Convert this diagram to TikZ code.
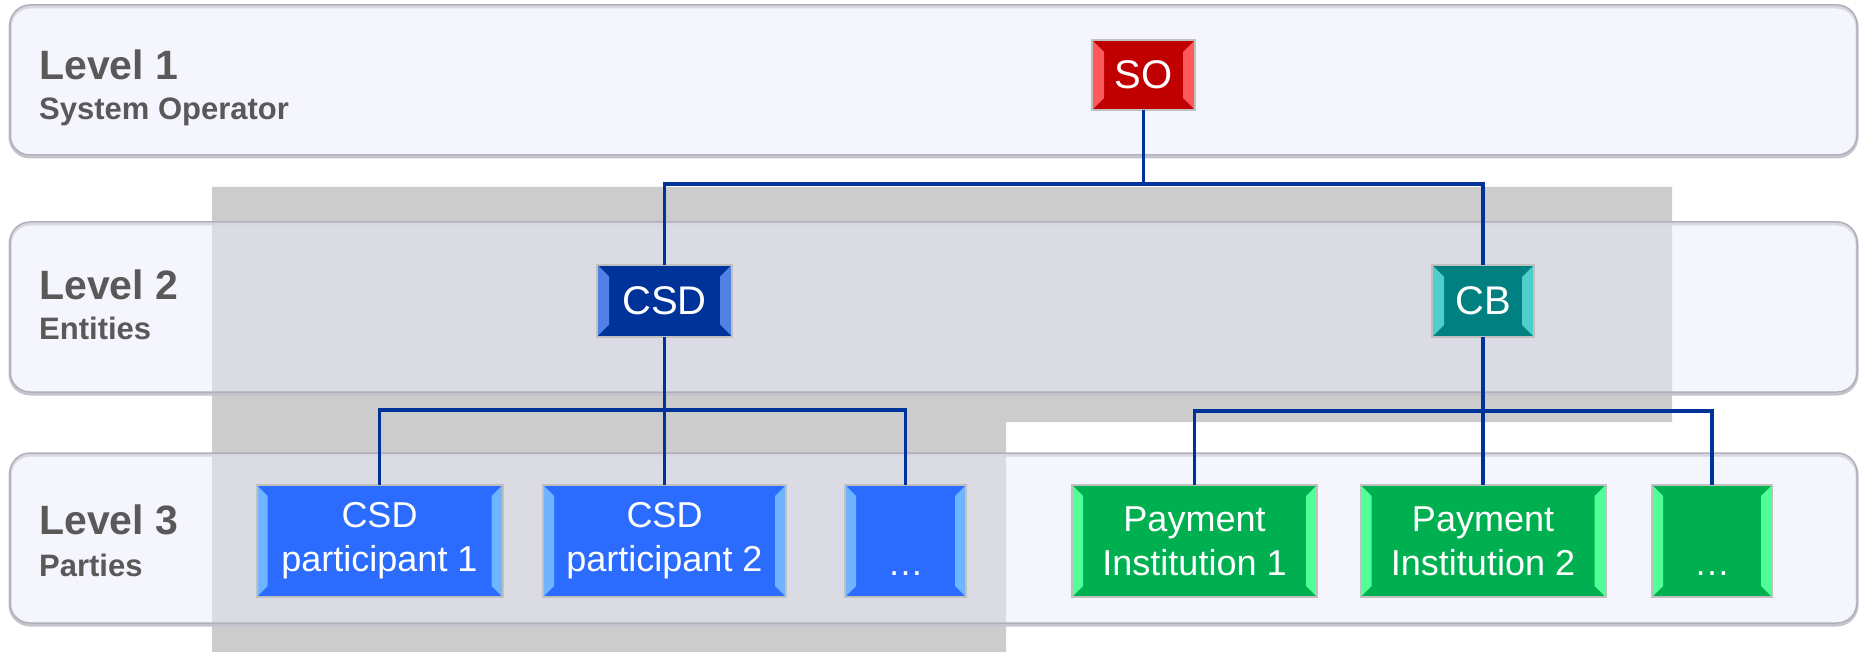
\documentclass[tikz,border=0pt]{standalone}
\usepackage{fontspec}
\setmainfont{Liberation Sans}
\definecolor{bandfill}{RGB}{235,235,251}
\definecolor{bandline}{RGB}{176,176,188}
\definecolor{bandshadow}{RGB}{196,196,206}
\definecolor{overlaygray}{RGB}{204,204,204}
\definecolor{conncol}{RGB}{0,51,153}
\definecolor{lvltext}{RGB}{89,89,89}
\definecolor{framegray}{RGB}{192,192,192}
\definecolor{soface}{RGB}{192,0,0}
\definecolor{sobev}{RGB}{255,90,90}
\definecolor{csdface}{RGB}{0,51,153}
\definecolor{csdbev}{RGB}{80,130,230}
\definecolor{cbface}{RGB}{0,128,128}
\definecolor{cbbev}{RGB}{80,205,205}
\definecolor{partface}{RGB}{43,108,255}
\definecolor{partbev}{RGB}{110,180,255}
\definecolor{payface}{RGB}{0,176,80}
\definecolor{paybev}{RGB}{80,255,150}
\tikzset{
  bevbox/.style n args={3}{rectangle, fill=#1, draw=framegray, line width=2pt,
    inner sep=0pt, outer sep=0pt, text=white, align=center,
    path picture={
      \fill[#2] (path picture bounding box.south west) -- (path picture bounding box.north west)
        -- ([xshift=#3,yshift=-#3]path picture bounding box.north west)
        -- ([xshift=#3,yshift=#3]path picture bounding box.south west) -- cycle;
      \fill[#2] (path picture bounding box.south east) -- (path picture bounding box.north east)
        -- ([xshift=-#3,yshift=-#3]path picture bounding box.north east)
        -- ([xshift=-#3,yshift=#3]path picture bounding box.south east) -- cycle;
    }},
  topbox/.style={font=\fontsize{40}{48}\selectfont, minimum height=72pt},
  lowbox/.style={font=\fontsize{36}{44}\selectfont, minimum height=112pt},
  conn/.style={draw=conncol, line width=3.5pt},
  band/.style={rounded corners=20pt, fill=bandfill, fill opacity=0.5, draw=bandline, line width=1.5pt},
  bandshad/.style={rounded corners=20pt, draw=bandshadow, line width=3pt},
  lvltitle/.style={anchor=base west, inner sep=0pt, text=lvltext, font=\fontsize{41}{48}\selectfont\bfseries},
  lvlsub/.style={anchor=base west, inner sep=0pt, text=lvltext, font=\fontsize{31}{36}\selectfont\bfseries},
}
\begin{document}
\begin{tikzpicture}[x=1pt,y=-1pt]
\useasboundingbox (0,0) rectangle (1859,652);
% grey overlay behind the bands
\fill[overlaygray] (212,187) -- (1672,187) -- (1672,422) -- (1006,422) -- (1006,652) -- (212,652) -- cycle;
% bands
\draw[bandshad] (10,7) rectangle (1857,157);
\draw[band] (10,5) rectangle (1857,155);
\draw[bandshad] (10,224) rectangle (1857,394);
\draw[band] (10,222) rectangle (1857,392);
\draw[bandshad] (10,455) rectangle (1857,625);
\draw[band] (10,453) rectangle (1857,623);
% level labels
\node[lvltitle] (L1t) at (39,80) {Level 1};
\node[lvlsub] (L1s) at (39,120) {System Operator};
\node[lvltitle] (L2t) at (39,299) {Level 2};
\node[lvlsub] (L2s) at (39,339) {Entities};
\node[lvltitle] (L3t) at (39,534) {Level 3};
\node[lvlsub] (L3s) at (39,576) {Parties};
% bus coordinates
\coordinate (bus1) at (0,184);
\coordinate (bus2) at (0,410);
\coordinate (bus3) at (0,411);
% boxes
\node[bevbox={soface}{sobev}{12pt}, topbox, minimum width=103pt, minimum height=70pt] (SO) at (1143.5,75) {SO};
\node[bevbox={csdface}{csdbev}{12pt}, topbox, minimum width=135pt] (CSD) at (664.5,300.5) {CSD};
\node[bevbox={cbface}{cbbev}{12pt}, topbox, minimum width=102pt] (CB) at (1483,301) {CB};
\node[bevbox={partface}{partbev}{11pt}, lowbox, minimum width=246pt] (P1) at (379.5,541) {CSD\\participant 1};
\node[bevbox={partface}{partbev}{11pt}, lowbox, minimum width=243pt] (P2) at (664.5,541) {CSD\\participant 2};
\node[bevbox={partface}{partbev}{11pt}, lowbox, minimum width=121pt] (D1) at (905.5,541) {\vphantom{Ip}\\…};
\node[bevbox={payface}{paybev}{11pt}, lowbox, minimum width=245pt] (Q1) at (1194.5,541) {Payment\\Institution 1};
\node[bevbox={payface}{paybev}{11pt}, lowbox, minimum width=245pt] (Q2) at (1483,541) {Payment\\Institution 2};
\node[bevbox={payface}{paybev}{11pt}, lowbox, minimum width=120pt] (D2) at (1712,541) {\vphantom{Ip}\\…};
% connectors
\draw[conn] (SO.south) -- (SO.south |- bus1) -| (CSD.north);
\draw[conn] (SO.south |- bus1) -| (CB.north);
\draw[conn] (CSD.south) -- (P2.north);
\draw[conn] (CSD.south |- bus2) -| (P1.north);
\draw[conn] (CSD.south |- bus2) -| (D1.north);
\draw[conn] (CB.south) -- (Q2.north);
\draw[conn] (CB.south |- bus3) -| (Q1.north);
\draw[conn] (CB.south |- bus3) -| (D2.north);
\end{tikzpicture}
\end{document}
